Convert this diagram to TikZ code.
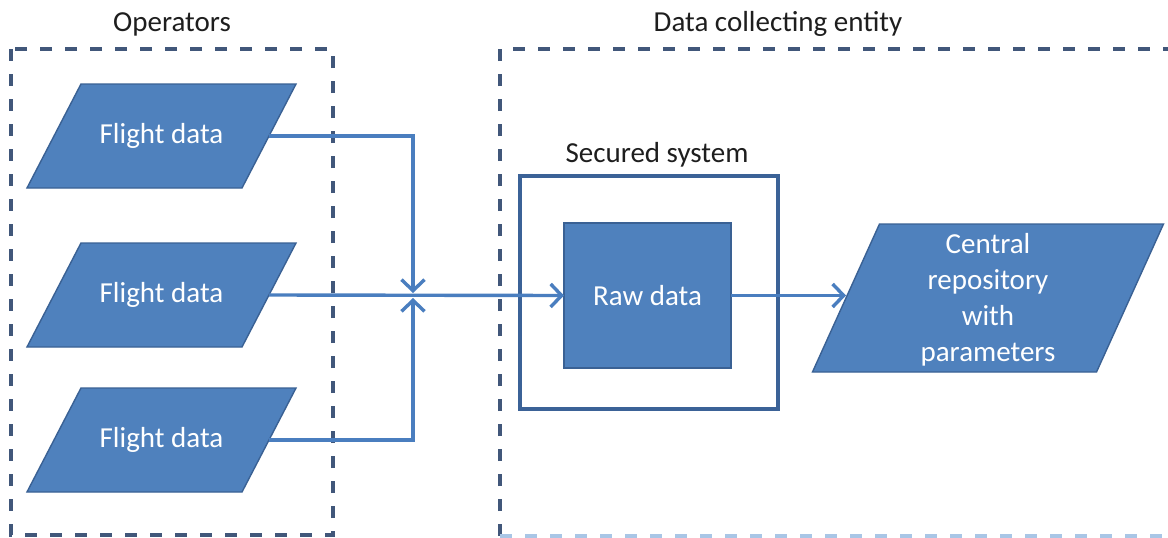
\documentclass[tikz,border=0pt]{standalone}
\usepackage{fontspec}
\setmainfont{Carlito}
\usetikzlibrary{arrows.meta}
\definecolor{boxfill}{HTML}{4F81BD}
\definecolor{boxline}{HTML}{3A6194}
\definecolor{frameline}{HTML}{41577A}
\definecolor{framelight}{HTML}{A9C6E6}
\definecolor{secline}{HTML}{3B6297}
\definecolor{connline}{HTML}{4A7EBF}
\definecolor{labeltext}{HTML}{1E1E1E}
% slanted data block: name, centre x, centre y, half width, half slant, half height
\newcommand{\dataslab}[6]{%
  \filldraw[slab] ({#2-#4+#5},{#3-#6}) -- ({#2+#4+#5},{#3-#6})
    -- ({#2+#4-#5},{#3+#6}) -- ({#2-#4-#5},{#3+#6}) -- cycle;
  \coordinate (#1e) at ({#2+#4},#3);
  \coordinate (#1w) at ({#2-#4},#3);}
\begin{document}
\begin{tikzpicture}[x=1pt,y=-1pt,
  bigfont/.style={font=\fontsize{29}{36}\selectfont},
  slab/.style={fill=boxfill, draw=boxline, line width=1.4pt, line join=miter},
  slabtext/.style={text=white, inner sep=0pt, align=center, bigfont},
  procbox/.style={rectangle, fill=boxfill, draw=boxline, line width=1.4pt,
    text=white, inner sep=0pt, outer sep=0pt, bigfont},
  framebox/.style={draw=frameline, line width=3.2pt, dash pattern=on 12pt off 13pt},
  title/.style={text=labeltext, inner sep=0pt, bigfont},
  conn/.style={draw=connline, line width=3.4pt},
  tip/.style={-{Straight Barb[length=11pt,width=23pt,line width=3.4pt]}}]
\useasboundingbox (0,0) rectangle (1168,538);
\clip (0,0) rectangle (1168,538);
\fill[white] (0,0) rectangle (1168,538);

% group frames
\coordinate (opnw) at (11,49);
\coordinate (opse) at (333,535);
\draw[framebox] (opnw) rectangle (opse);
\coordinate (dcsw) at (500,536);
\coordinate (dcnw) at (500,49);
\coordinate (dcne) at (1190,49);
\coordinate (dcse) at (1190,536);
\draw[framebox] (dcsw) -- (dcnw) -- (dcne);
\draw[framebox, draw=framelight] (dcsw) -- (dcse);

\node[title] (optitle) at (172,24) {Operators};
\node[title] (dctitle) at (778,24) {Data collecting entity};

% flight data inputs
\dataslab{fd1}{161.5}{136}{107.5}{27}{52}
\dataslab{fd2}{161.5}{295}{107.5}{27}{52}
\dataslab{fd3}{161.5}{440}{107.5}{27}{52}
\node[slabtext] (fd1t) at (161.5,136) {Flight data};
\node[slabtext] (fd2t) at (161.5,295) {Flight data};
\node[slabtext] (fd3t) at (161.5,440) {Flight data};

% secured system
\node[draw=secline, line width=4pt, minimum width=258pt, minimum height=233pt,
      inner sep=0pt, outer sep=0pt] (sec) at (649,292.5) {};
\node[title] (sectitle) at (657,155) {Secured system};
\node[procbox, minimum width=167pt, minimum height=145pt] (raw) at (647.5,295.5) {Raw data};

% repository
\dataslab{repo}{988}{298}{142}{33.5}{74}
\node[slabtext] (repot) at (988,300) {Central\\repository\\with\\parameters};

% connectors
\coordinate (jt) at (413,293);
\coordinate (jb) at (413,298);
\draw[conn, tip] (fd1e) -| (jt);
\draw[conn, tip] (fd3e) -| (jb);
\draw[conn, tip] (fd2e) -- (raw.west);
\draw[conn, tip] (raw.east) -- (raw.east -| repow);
\end{tikzpicture}
\end{document}
